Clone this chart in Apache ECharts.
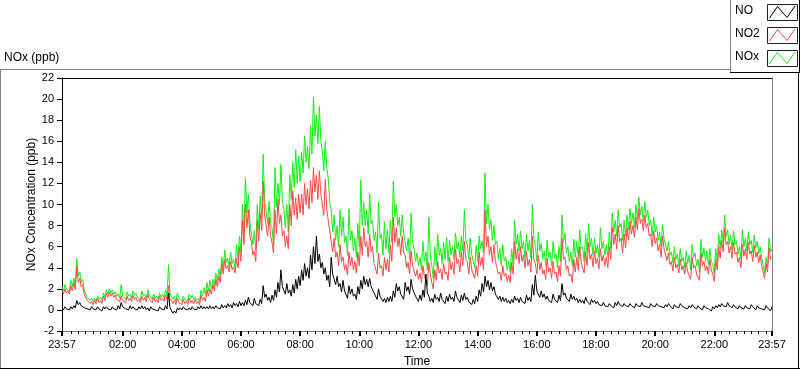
<!DOCTYPE html>
<html><head><meta charset="utf-8">
<script src="https://cdn.jsdelivr.net/npm/echarts@6/dist/echarts.min.js"></script>
<style>html,body{margin:0;padding:0;background:#fff}#c{width:800px;height:369px}</style>
</head><body><div id="c"></div>
<script>
// sampling step in minutes from the 23:57 start; each slot has a band top (high) and band bottom (low)
const STEP_MIN = 6;
// x positions (minutes after 23:57) and labels of the major ticks
const tickPositions = [0,123,243,363,483,603,723,843,963,1083,1203,1323,1440];
const tickLabels = ['23:57','02:00','04:00','06:00','08:00','10:00','12:00','14:00','16:00','18:00','20:00','22:00','23:57'];
const yTicks = [-2,0,2,4,6,8,10,12,14,16,18,20,22];

const noHigh = [
0.2,0.3,0.2,0.3,0.4,0.9,0.7,0.5,0.3,0.2,0.3,
0.2,0.3,0.1,0.3,0.3,0.2,0.3,0.2,0.4,0.7,
0.3,0.2,0.4,0.3,0.2,0.3,0.4,0.3,0.2,0.3,
0.2,0.1,0.3,0.2,0.4,1.6,0.1,-0.1,0.2,0.2,
0.3,0.2,0.2,0.3,0.2,0.3,0.4,0.3,0.3,0.4,
0.3,0.4,0.3,0.5,0.4,0.6,0.5,0.7,0.6,0.8,
0.7,0.9,1.2,0.8,1.1,0.7,1.0,2.3,1.5,1.2,
1.4,1.9,2.6,3.8,2.2,2.5,1.9,2.4,2.9,3.2,
3.8,4.4,4.0,5.2,6.0,7.0,5.3,4.5,4.0,3.3,
5.0,3.5,3.2,2.5,2.8,1.8,2.3,2.0,1.5,2.2,
2.8,3.2,2.9,3.0,2.3,1.6,2.0,1.3,1.1,1.2,
1.3,1.8,2.5,2.2,1.6,2.6,2.2,2.9,2.0,1.2,
1.4,1.9,3.4,1.3,1.1,1.5,1.2,1.6,1.0,1.3,
1.5,1.2,1.8,1.1,1.4,1.6,1.2,0.9,1.0,1.3,
1.9,2.5,3.2,2.8,2.6,2.2,1.5,1.3,1.2,1.1,
0.9,1.0,1.3,1.1,1.2,0.9,1.4,1.2,2.4,3.3,
1.9,1.8,1.5,1.3,1.0,1.5,1.1,1.4,2.5,1.6,
1.2,1.5,1.3,1.1,1.0,0.9,1.2,0.8,1.0,0.9,
0.8,0.6,0.7,0.5,0.6,0.4,0.7,0.8,0.5,0.6,
0.5,0.6,0.4,0.6,0.5,0.7,0.5,0.4,0.6,0.5,
0.6,0.5,0.4,0.5,0.6,0.3,0.5,0.4,0.6,0.4,
0.3,0.4,0.5,0.3,0.4,0.2,0.4,0.3,0.1,0.3,
0.4,0.5,0.6,0.5,0.7,0.4,0.5,0.3,0.4,0.3,
0.4,0.3,0.5,0.2,0.4,0.3,0.2,0.4,0.1,0.3
];
const noLow = [
0.0,0.1,0.0,0.1,0.2,0.5,0.4,0.2,0.1,0.0,0.1,
0.0,0.1,-0.1,0.1,0.1,0.0,0.1,0.0,0.1,0.3,
0.1,0.0,0.1,0.1,0.0,0.1,0.1,0.0,-0.1,0.1,
0.0,-0.1,0.1,0.0,0.1,0.2,-0.3,-0.3,0.0,0.0,
0.1,0.0,0.0,0.1,0.0,0.1,0.1,0.1,0.1,0.1,
0.1,0.2,0.1,0.2,0.2,0.3,0.2,0.4,0.3,0.4,
0.4,0.5,0.7,0.4,0.6,0.4,0.6,1.2,0.9,0.7,
0.9,1.2,1.7,2.2,1.5,1.6,1.3,1.6,2.0,2.3,
2.8,3.2,3.0,3.8,4.4,4.6,4.0,3.4,2.8,2.2,
3.4,2.4,2.2,1.7,1.8,1.1,1.5,1.3,1.0,1.5,
2.0,2.4,2.2,2.2,1.6,1.0,1.3,0.8,0.7,0.8,
0.8,1.2,1.8,1.5,1.0,1.8,1.5,2.0,1.3,0.8,
0.9,1.2,1.6,0.8,0.7,1.0,0.8,1.0,0.6,0.8,
1.0,0.8,1.2,0.7,0.9,1.0,0.8,0.5,0.6,0.8,
1.3,1.7,2.2,1.9,1.8,1.5,1.0,0.8,0.8,0.7,
0.6,0.7,0.9,0.7,0.8,0.6,0.9,0.8,1.4,1.8,
1.2,1.2,1.0,0.9,0.7,1.0,0.7,0.9,1.4,1.1,
0.8,1.0,0.9,0.7,0.7,0.6,0.8,0.5,0.7,0.6,
0.5,0.4,0.4,0.3,0.4,0.2,0.4,0.5,0.3,0.4,
0.3,0.4,0.2,0.4,0.3,0.4,0.3,0.2,0.4,0.3,
0.4,0.3,0.2,0.3,0.4,0.1,0.3,0.2,0.4,0.2,
0.1,0.2,0.3,0.1,0.2,0.0,0.2,0.1,-0.1,0.1,
0.2,0.3,0.4,0.3,0.4,0.2,0.3,0.1,0.2,0.1,
0.2,0.1,0.3,0.0,0.2,0.1,0.0,0.2,-0.1,0.1
];
const no2High = [
1.9,2.0,1.8,2.3,2.6,4.1,3.0,2.4,1.5,1.0,0.8,
0.9,1.1,0.9,1.3,1.6,1.7,1.6,1.4,1.1,1.3,
1.0,1.3,1.1,1.4,1.2,1.0,1.3,1.2,1.5,1.1,
1.2,1.0,1.3,1.1,1.4,2.3,1.2,0.9,1.1,0.8,
1.0,0.8,1.1,0.9,1.0,0.8,1.4,1.2,1.9,2.0,
2.4,2.9,3.2,4.4,4.8,4.2,4.6,4.1,4.9,6.0,
8.5,10.0,9.5,6.5,5.6,8.5,9.2,12.2,9.0,8.8,
6.4,9.5,10.5,9.0,7.5,7.0,10.0,11.3,10.6,11.0,
11.0,12.0,11.5,12.3,13.5,12.8,13.2,11.0,12.4,9.5,
7.5,6.8,5.5,6.2,5.0,4.3,5.5,5.0,4.6,5.5,
7.0,7.8,6.5,7.2,6.0,4.5,5.4,4.2,5.0,4.8,
6.2,8.8,7.8,6.8,7.0,5.2,4.5,5.6,4.2,3.8,
3.5,4.2,3.2,4.5,2.6,3.8,4.6,3.9,4.4,3.6,
5.0,4.5,5.8,4.8,5.5,6.5,4.6,5.0,3.9,4.2,
5.5,5.0,9.5,7.0,6.0,6.2,4.5,3.6,4.2,3.5,
3.3,4.5,6.5,5.8,6.0,5.2,5.6,4.8,7.0,4.4,
5.2,4.5,3.8,4.9,4.0,4.6,3.6,4.2,6.8,5.0,
4.2,3.4,4.8,5.0,6.0,4.5,5.5,6.4,5.3,5.6,
4.9,5.8,5.2,5.0,6.0,7.8,7.2,8.0,6.8,7.2,
7.8,8.4,8.0,8.8,9.6,8.6,9.0,8.2,7.2,7.5,
6.8,6.2,7.0,5.8,5.4,4.6,5.0,4.3,4.8,4.2,
4.5,3.6,5.0,4.2,3.4,5.4,4.6,4.2,4.8,3.4,
4.8,6.0,6.6,7.8,6.5,6.0,6.4,5.5,5.0,6.2,
5.8,6.4,5.6,6.1,5.5,5.2,3.6,4.4,5.9,5.0
];
const no2Low = [
1.5,1.6,1.5,1.8,1.9,2.6,2.2,1.5,0.9,0.6,0.5,
0.6,0.7,0.6,0.9,1.2,1.3,1.2,1.0,0.8,0.9,
0.7,0.9,0.8,1.0,0.8,0.7,0.9,0.8,1.0,0.7,
0.8,0.7,0.9,0.8,1.0,1.1,0.6,0.5,0.7,0.5,
0.6,0.5,0.7,0.6,0.6,0.5,0.9,0.8,1.3,1.5,
1.8,2.2,2.6,3.4,3.9,3.6,3.8,3.5,4.0,4.6,
6.2,7.8,7.0,5.2,4.6,6.5,7.5,9.0,7.0,7.0,
5.4,7.2,8.2,7.0,6.0,5.8,8.0,9.0,8.6,9.2,
9.0,10.0,9.6,10.2,11.2,10.5,11.0,9.0,9.5,7.5,
5.5,5.0,4.2,4.6,3.8,3.3,4.2,3.8,3.5,4.2,
5.2,6.0,5.0,5.5,4.4,3.4,4.0,3.2,3.8,3.6,
4.6,6.4,6.0,5.2,5.4,4.0,3.4,4.2,3.2,2.9,
2.6,3.2,2.3,3.4,2.0,2.8,3.5,2.9,3.4,2.8,
3.8,3.4,4.4,3.6,4.2,4.8,3.4,3.8,3.0,3.2,
4.2,3.8,6.0,5.2,4.5,4.6,3.4,2.8,3.2,2.7,
2.6,3.4,4.8,4.4,4.6,4.0,4.2,3.6,4.8,3.4,
3.8,3.4,2.9,3.6,3.0,3.4,2.7,3.2,4.8,3.8,
3.2,2.6,3.6,3.8,4.5,3.5,4.2,4.8,4.1,4.4,
3.9,4.6,4.2,4.0,4.8,6.2,5.8,6.5,5.4,5.9,
6.6,7.2,6.9,7.6,8.2,7.5,7.8,7.0,6.0,6.3,
5.6,5.0,5.8,4.7,4.3,3.7,4.0,3.5,3.8,3.4,
3.6,2.9,4.0,3.4,2.8,4.2,3.7,3.4,3.8,2.7,
3.8,4.9,5.5,6.2,5.4,4.9,5.3,4.5,4.0,5.1,
4.8,5.3,4.6,5.0,4.5,4.2,3.0,3.6,4.8,4.2
];
const noxHigh = [
2.2,2.4,2.1,2.8,3.0,4.9,3.6,2.9,1.8,1.3,1.1,
1.1,1.3,1.2,1.6,1.9,2.0,1.9,1.7,1.5,2.4,
1.3,1.7,1.5,1.8,1.6,1.3,1.8,1.5,1.9,1.4,
1.5,1.3,1.6,1.5,1.9,4.3,1.7,1.3,1.6,1.2,
1.3,1.1,1.5,1.4,1.2,1.1,1.9,2.1,2.6,2.8,
2.9,3.5,3.9,5.0,5.7,4.9,5.5,4.8,6.2,7.0,
10.0,12.5,11.0,8.5,7.5,10.0,10.8,14.8,10.5,10.3,
7.8,13.5,12.0,13.8,9.5,10.0,12.8,14.0,15.2,14.6,
15.0,16.5,15.5,17.5,20.2,18.5,19.3,15.0,16.0,12.5,
9.5,9.0,8.0,9.5,8.8,7.0,9.6,7.5,6.8,8.2,
12.3,10.2,9.5,11.0,8.5,7.4,10.2,7.2,8.3,7.6,
8.5,12.2,10.0,8.8,9.0,7.2,6.8,9.2,5.8,5.4,
5.0,6.5,5.5,8.8,4.2,6.0,7.2,5.8,6.4,6.9,
6.6,6.0,7.3,6.4,7.0,9.5,6.2,6.8,5.2,6.1,
7.0,6.5,13.0,10.0,8.6,8.0,6.5,5.8,6.2,5.0,
4.6,5.8,8.5,7.2,7.5,6.5,7.2,6.6,10.0,6.0,
7.4,6.3,5.6,6.6,5.5,6.5,5.3,6.0,9.0,7.3,
6.0,5.5,6.7,6.5,7.6,6.0,7.2,8.2,6.8,6.8,
6.2,7.8,6.5,6.2,7.4,9.2,8.5,9.5,8.2,8.5,
9.0,9.6,9.2,10.0,10.7,9.8,10.3,9.5,8.5,8.8,
8.0,7.4,8.1,6.8,6.5,5.5,6.0,5.3,5.8,5.0,
5.6,5.2,6.2,5.4,4.8,6.7,5.9,5.6,5.8,4.3,
5.8,7.2,7.6,9.0,7.6,7.1,7.5,6.5,6.0,7.6,
6.8,7.4,6.6,7.1,6.5,6.0,4.3,5.0,6.8,5.8
];
const noxLow = [
1.8,2.0,1.8,2.2,2.4,3.2,2.6,1.9,1.2,0.9,0.8,
0.8,1.0,0.9,1.2,1.5,1.6,1.5,1.3,1.1,1.3,
1.0,1.3,1.1,1.4,1.2,1.0,1.3,1.1,1.4,1.0,
1.1,1.0,1.2,1.1,1.4,1.6,1.0,0.8,1.1,0.8,
1.0,0.8,1.1,1.0,0.9,0.8,1.3,1.4,1.8,2.0,
2.3,2.7,3.1,3.9,4.5,4.1,4.4,4.0,4.8,5.5,
7.4,9.2,8.4,6.2,5.6,7.6,8.6,10.5,8.2,8.2,
6.2,9.8,10.0,10.2,7.8,7.4,10.5,11.6,12.0,12.2,
13.0,14.0,13.4,14.8,16.5,15.8,16.0,13.2,13.5,10.2,
7.4,6.6,6.0,7.0,6.4,5.2,6.6,5.6,5.0,6.0,
8.0,8.0,7.2,8.2,6.6,5.4,6.8,5.2,5.8,5.4,
6.4,8.8,8.0,7.0,7.2,5.6,4.8,6.4,4.6,4.2,
3.8,4.6,3.8,5.2,3.0,4.2,5.2,4.4,4.8,4.6,
5.2,4.8,5.8,5.0,5.6,6.6,4.8,5.2,4.0,4.6,
5.8,5.4,8.2,7.6,6.6,6.2,4.8,4.2,4.6,3.8,
3.6,4.4,6.2,5.6,5.8,5.0,5.6,4.9,6.8,4.6,
5.6,4.8,4.2,5.0,4.2,4.9,4.0,4.6,6.4,5.4,
4.6,4.2,5.0,5.0,5.8,4.6,5.4,6.0,5.2,5.4,
5.0,5.8,5.2,5.0,5.8,7.4,7.0,7.8,6.6,7.0,
7.6,8.2,7.8,8.6,9.0,8.4,8.8,8.0,7.0,7.4,
6.6,6.0,6.8,5.6,5.2,4.5,4.8,4.2,4.6,4.0,
4.4,3.8,5.0,4.2,3.6,5.0,4.6,4.3,4.6,3.4,
4.6,5.8,6.4,7.0,6.2,5.7,6.2,5.3,4.9,6.0,
5.6,6.2,5.4,5.9,5.3,5.0,3.5,4.1,5.5,4.8
];

const minorTicks = [];
for (let m = 18; m < 1440; m += 15) { if ((m - 3) % 120 !== 0) minorTicks.push(m); }

// each slot: band top at its start, band bottom half a slot later
function bandSeries(high, low) {
  const out = [];
  for (let i = 0; i < high.length; i++) {
    out.push([i * STEP_MIN, high[i]]);
    if (i < high.length - 1) out.push([i * STEP_MIN + STEP_MIN / 2, low[i]]);
  }
  return out;
}

const FONT = 'Liberation Sans';
const GREEN = '#14f014', RED = '#ff4747';
// plot box (px) and a label grid one unit taller at each end, same scale
const G = {left: 62, right: 28, top: 78, bottom: 38};
const unitPx = (369 - G.top - G.bottom) / 24;
const chart = echarts.init(document.getElementById('c'), null, {renderer: 'canvas'});

function legendItem(label, color, top) {
  const bx = 767, bw = 30, bh = 16;
  return [
    {type:'text', left:735, top: top + 1, style:{text:label, font:'12px ' + FONT, fill:'#000'}},
    {type:'rect', shape:{x:bx + 0.5, y:top + 0.5, width:bw, height:bh}, style:{fill:'#fff', stroke:'#222', lineWidth:1}},
    {type:'polyline', shape:{points:[[bx+2.5, top+14], [bx+10.5, top+2.5], [bx+20, top+13.5], [bx+28, top+2]]}, style:{stroke:color, fill:null, lineWidth:1}}
  ];
}

const option = {
  animation: false,
  backgroundColor: '#fff',
  textStyle: {fontFamily: FONT},
  title: {text: 'NOx (ppb)', left: 4, top: 52, padding: 0, textStyle: {fontSize: 12, fontWeight: 'normal', color: '#000', fontFamily: FONT}},
  grid: [
    {left: G.left, right: G.right, top: G.top, bottom: G.bottom, containLabel: false, outerBoundsMode: 'none'},
    {left: G.left, right: G.right, top: G.top - unitPx, bottom: G.bottom - unitPx, containLabel: false, outerBoundsMode: 'none'}
  ],
  xAxis: [
    {type:'value', gridIndex:0, min:0, max:1440, position:'bottom',
     axisLine:{show:true, onZero:false, lineStyle:{color:'#808080', width:1}},
     axisTick:{show:true, customValues: tickPositions, length:5, lineStyle:{color:'#000', width:2}},
     axisLabel:{customValues: tickPositions, formatter: v => tickLabels[tickPositions.indexOf(v)], color:'#000', fontSize:11, margin:8, fontFamily: FONT},
     splitLine:{show:false},
     name:'Time', nameLocation:'middle', nameGap:25, nameMoveOverlap:false, nameTextStyle:{fontSize:12, color:'#000', fontFamily: FONT}},
    {type:'value', gridIndex:0, min:0, max:1440, position:'bottom',
     axisLine:{show:false, onZero:false},
     axisTick:{show:true, customValues: minorTicks, length:3, lineStyle:{color:'#000', width:1}},
     axisLabel:{show:false}, splitLine:{show:false}},
    {type:'value', gridIndex:0, min:0, max:1440, position:'top',
     axisLine:{show:true, onZero:false, lineStyle:{color:'#000', width:1}},
     axisTick:{show:false}, axisLabel:{show:false}, splitLine:{show:false}},
    {type:'value', gridIndex:1, min:0, max:1440, show:false}
  ],
  yAxis: [
    {type:'value', gridIndex:0, min:-2, max:22, interval:2, position:'left',
     axisLine:{show:true, onZero:false, lineStyle:{color:'#000', width:1}},
     axisTick:{show:true, length:5, lineStyle:{color:'#000'}},
     axisLabel:{show:false},
     splitLine:{show:false},
     name:'NOx Concentration (ppb)', nameLocation:'middle', nameGap:24, nameRotate:90, nameMoveOverlap:false,
     nameTextStyle:{fontSize:12, color:'#000', fontFamily: FONT}},
    {type:'value', gridIndex:0, min:-2, max:22, position:'right',
     axisLine:{show:true, onZero:false, lineStyle:{color:'#808080', width:1}},
     axisTick:{show:false}, axisLabel:{show:false}, splitLine:{show:false}},
    // tick labels of the value axis, on a range one unit wider so the end labels are interior
    {type:'value', gridIndex:1, min:-3, max:23, interval:1, position:'left',
     axisLine:{show:false, onZero:false}, axisTick:{show:false}, splitLine:{show:false},
     axisLabel:{color:'#000', fontSize:11, margin:8, fontFamily: FONT, showMinLabel:false, showMaxLabel:false,
                formatter: v => yTicks.includes(v) ? String(v) : ''}}
  ],
  series: [
    {name:'NOx', type:'line', xAxisIndex:0, yAxisIndex:0, data: bandSeries(noxHigh, noxLow), showSymbol:false, symbol:'none', lineStyle:{color:GREEN, width:1}, itemStyle:{color:GREEN}, z:2},
    {name:'NO2', type:'line', xAxisIndex:0, yAxisIndex:0, data: bandSeries(no2High, no2Low), showSymbol:false, symbol:'none', lineStyle:{color:RED, width:1}, itemStyle:{color:RED}, z:3},
    {name:'NO', type:'line', xAxisIndex:0, yAxisIndex:0, data: bandSeries(noHigh, noLow), showSymbol:false, symbol:'none', lineStyle:{color:'#000', width:1}, itemStyle:{color:'#000'}, z:4}
  ],
  graphic: [
    // outer panel frame
    {type:'line', shape:{x1:0, y1:69.5, x2:730, y2:69.5}, style:{stroke:'#808080', lineWidth:1}},
    {type:'line', shape:{x1:0.5, y1:69, x2:0.5, y2:368}, style:{stroke:'#808080', lineWidth:1}},
    {type:'line', shape:{x1:0, y1:368.5, x2:800, y2:368.5}, style:{stroke:'#000', lineWidth:1}},
    {type:'line', shape:{x1:798.5, y1:72, x2:798.5, y2:369}, style:{stroke:'#000', lineWidth:1}},
    // legend box
    {type:'line', shape:{x1:730.5, y1:0, x2:730.5, y2:72}, style:{stroke:'#808080', lineWidth:1}},
    {type:'line', shape:{x1:730, y1:72.5, x2:800, y2:72.5}, style:{stroke:'#000', lineWidth:1}},
    {type:'line', shape:{x1:799.5, y1:0, x2:799.5, y2:73}, style:{stroke:'#000', lineWidth:1}},
    ...legendItem('NO', '#000', 4),
    ...legendItem('NO2', RED, 27),
    ...legendItem('NOx', GREEN, 50)
  ]
};
chart.setOption(option);
</script>
</body></html>
